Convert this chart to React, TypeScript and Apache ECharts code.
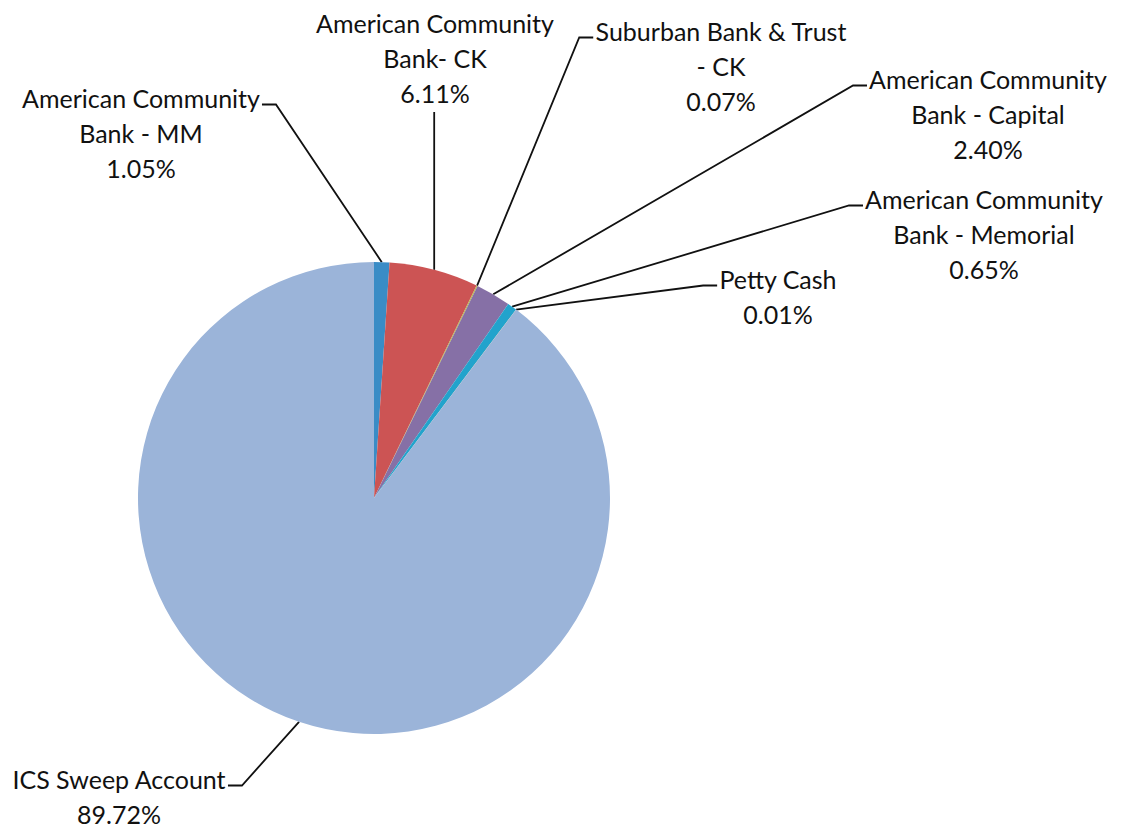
import React, { useEffect, useRef } from "react";
import * as echarts from "echarts";

const names = [
  "American Community\nBank - MM",
  "American Community\nBank- CK",
  "Suburban Bank & Trust\n- CK",
  "American Community\nBank - Capital",
  "American Community\nBank - Memorial",
  "Petty Cash",
  "ICS Sweep Account",
];
const values = [1.05, 6.11, 0.07, 2.4, 0.65, 0.01, 89.72];
const colors = ["#3a8cc6", "#cc5454", "#b5b84a", "#8670a6", "#22a3cc", "#f29b45", "#9bb4d9"];
// label anchor: [center x, top y] and side from which the leader line arrives
const labelPos: [number, number][] = [
  [141, 80],
  [435, 5],
  [721, 13],
  [988, 61],
  [984, 181],
  [778, 261],
  [119, 761],
];
const labelSide = ["left", "top", "right", "right", "right", "right", "left"];

const FONT_SIZE = 25;
const LINE_H = 35;
const FONT_FAMILY = "Lato";

function measure(text: string): number {
  const c = document.createElement("canvas");
  const ctx = c.getContext("2d");
  if (!ctx) return text.length * FONT_SIZE * 0.5;
  ctx.font = `${FONT_SIZE}px ${FONT_FAMILY}`;
  return ctx.measureText(text).width;
}

export default function App() {
  const ref = useRef<HTMLDivElement>(null);
  useEffect(() => {
    if (!ref.current) return;
    const chart = echarts.init(ref.current, undefined, { renderer: "svg" });
    chart.setOption({
      animation: false,
      backgroundColor: "#ffffff",
      series: [
        {
          type: "pie",
          center: [374, 498],
          radius: [0, 236],
          startAngle: 90,
          clockwise: true,
          avoidLabelOverlap: false,
          data: names.map((n, i) => ({
            name: n,
            value: values[i],
            itemStyle: { color: colors[i] },
          })),
          itemStyle: { borderWidth: 0 },
          label: {
            show: true,
            formatter: (p: any) => `${p.name}\n${values[p.dataIndex].toFixed(2)}%`,
            fontFamily: FONT_FAMILY,
            fontSize: FONT_SIZE,
            lineHeight: LINE_H,
            color: "#111111",
            align: "center",
          },
          labelLine: {
            show: true,
            length: 20,
            length2: 15,
            lineStyle: { color: "#111111", width: 1.8 },
          },
          labelLayout: (params: any) => {
            const i = params.dataIndex;
            const p = labelPos[i];
            const out: any = { x: p[0], y: p[1], align: "center", verticalAlign: "top" };
            const pts = params.labelLinePoints;
            if (pts && pts[0]) {
              const start = pts[0];
              const first = names[i].split("\n")[0];
              const w1 = measure(first);
              const side = labelSide[i];
              const nLines = names[i].split("\n").length + 1;
              const y = p[1] + LINE_H / 2 + 7;
              if (side === "left") {
                const r = p[0] + w1 / 2;
                out.labelLinePoints = [start, [r + 16, y], [r + 2, y]];
              } else if (side === "right") {
                const l = p[0] - w1 / 2;
                out.labelLinePoints = [start, [l - 16, y], [l - 2, y]];
              } else {
                out.labelLinePoints = [start, [start[0], p[1] + nLines * LINE_H + 2], [start[0], p[1] + nLines * LINE_H + 2]];
              }
            }
            return out;
          },
        },
      ],
    });
    return () => chart.dispose();
  }, []);
  return (
    <div
      ref={ref}
      style={{ position: "absolute", left: 0, top: 0, width: 1133, height: 827 }}
    />
  );
}
